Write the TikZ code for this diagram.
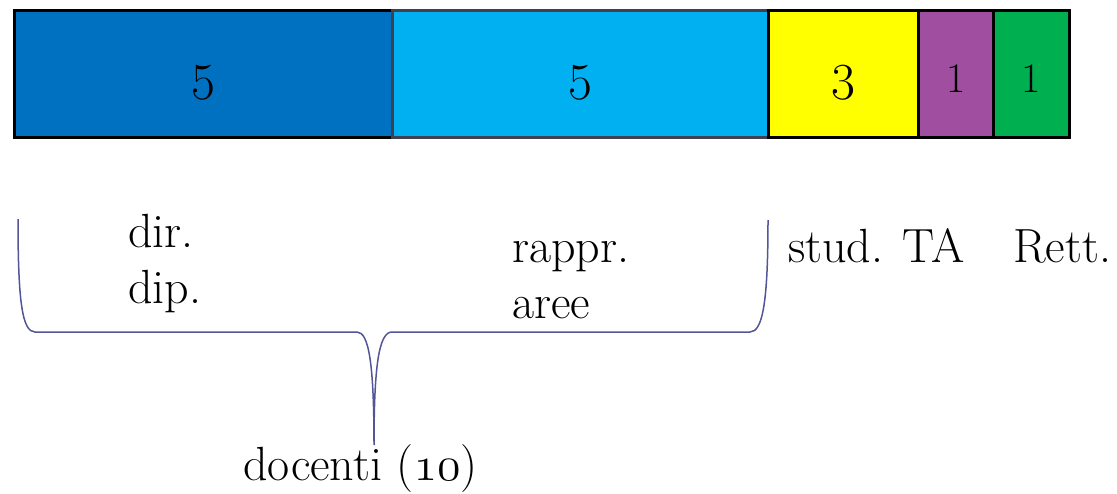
\documentclass[tikz,border=0pt]{standalone}
\usepackage{fix-cm}
\usepackage{fontspec}
\definecolor{dblue}{RGB}{0,112,192}
\definecolor{cyanb}{RGB}{0,176,240}
\definecolor{yel}{RGB}{255,255,0}
\definecolor{purp}{RGB}{160,79,160}
\definecolor{grn}{RGB}{0,176,80}
\definecolor{gborder}{RGB}{64,64,80}
\definecolor{bracec}{RGB}{82,86,150}
\tikzset{
  seg/.style={draw=black, line width=3pt, inner sep=0pt, minimum height=127pt, anchor=center},
  bignum/.style={anchor=base, inner sep=0pt, font=\fontsize{52}{60}\selectfont},
  smallnum/.style={anchor=base, inner sep=0pt, font=\fontsize{42}{50}\selectfont},
  lab/.style={anchor=base west, inner sep=0pt, font=\fontsize{48}{56}\selectfont},
  bracestyle/.style={draw=bracec, line width=1.5pt}
}
\begin{document}
\begin{tikzpicture}[x=1pt,y=-1pt]
\useasboundingbox (0,0) rectangle (1117,493);
% bar segments
\node[seg, fill=dblue, minimum width=378pt] (b1) at (203,73.5) {};
\node[seg, fill=cyanb, draw=gborder, minimum width=376pt] (b2) at (580,73.5) {};
\node[seg, fill=yel, minimum width=150pt] (b3) at (843,73.5) {};
\node[seg, fill=purp, minimum width=75pt] (b4) at (955.5,73.5) {};
\node[seg, fill=grn, minimum width=76pt] (b5) at (1031,73.5) {};
% numbers
\node[bignum] (n1) at (203.5,99) {5};
\node[bignum] (n2) at (580,99) {5};
\node[bignum] (n3) at (843,99) {3};
\node[smallnum] (n4) at (956,92) {1};
\node[smallnum] (n5) at (1031,92) {1};
% labels
\node[lab] (l1) at (128,247) {dir.};
\node[lab] (l2) at (128,303) {dip.};
\node[lab] (l3) at (512,262) {rappr.};
\node[lab] (l4) at (512,318) {aree};
\node[lab] (l5) at (788,262) {stud. TA};
\node[lab] (l6) at (1013,262) {Rett.};
\node[lab] (l7) at (243,480) {docenti ($\mathnormal{10}$)};
% brace
\draw[bracestyle] (18,219) .. controls (18,300) and (22,332) .. (35,332)
  -- (357,332) .. controls (369,332) and (374,365) .. (374,445)
  .. controls (374,365) and (379,332) .. (392,332)
  -- (750,332) .. controls (763,332) and (768,300) .. (768,220);
\end{tikzpicture}
\end{document}
